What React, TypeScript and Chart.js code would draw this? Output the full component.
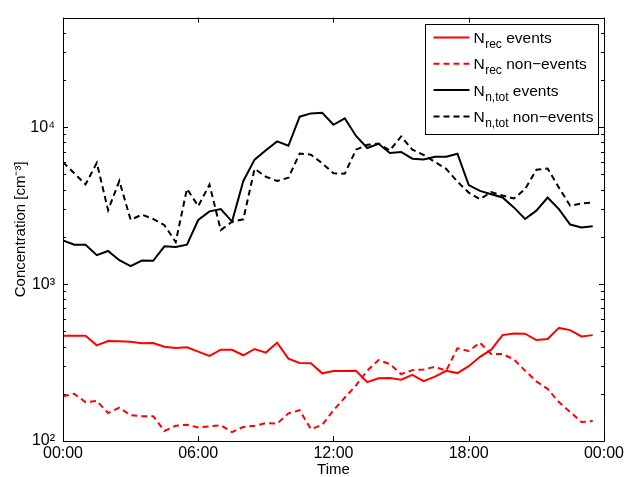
import React, { useEffect, useRef } from "react";
import { Chart, registerables } from "chart.js";

Chart.register(...registerables);

const hours = [
  0, 0.5, 1, 1.5, 2, 2.5, 3, 3.5, 4, 4.5, 5, 5.5, 6, 6.5, 7, 7.5, 8, 8.5, 9, 9.5,
  10, 10.5, 11, 11.5, 12, 12.5, 13, 13.5, 14, 14.5, 15, 15.5, 16, 16.5, 17, 17.5,
  18, 18.5, 19, 19.5, 20, 20.5, 21, 21.5, 22, 22.5, 23, 23.5,
];

const nRecEvents = [
  468, 468, 468, 407, 434, 433, 429, 420, 421, 399, 392, 396, 371, 349, 382, 381,
  352, 386, 366, 423, 335, 314, 313, 270, 279, 279, 280, 237, 251, 252, 246, 264,
  241, 257, 280, 271, 300, 344, 382, 473, 485, 483, 440, 447, 526, 509, 464, 473,
];

const nRecNonEvents = [
  193, 200, 177, 180, 151, 163, 146, 144, 144, 116, 125, 127, 122, 124, 126, 114,
  123, 125, 130, 129, 150, 157, 119, 127, 157, 189, 226, 281, 328, 309, 267, 283,
  286, 297, 281, 390, 375, 423, 358, 358, 332, 281, 240, 215, 177, 153, 132, 134,
];

const nTotEvents = [
  1901, 1783, 1783, 1529, 1627, 1421, 1302, 1413, 1408, 1742, 1725, 1783, 2563, 2909, 3007, 2504,
  4544, 6219, 7128, 8125, 7621, 11680, 12258, 12350, 10370, 11400, 8800, 7370, 7845, 6855, 6955, 6301,
  6237, 6486, 6486, 6786, 4275, 3929, 3740, 3565, 3083, 2602, 2939, 3565, 3008, 2398, 2295, 2339,
];

const nTotNonEvents = [
  5988, 5089, 4325, 5928, 2960, 4544, 2571, 2773, 2602, 2374, 1854, 4052, 3142, 4306, 2208, 2498,
  2589, 5433, 4836, 4544, 4767, 6805, 6687, 5885, 5089, 5052, 7193, 7730, 7870, 7108, 8737, 7193,
  6657, 6013, 5433, 4498, 3833, 3478, 3862, 3670, 3513, 4034, 5355, 5458, 4122, 3160, 3266, 3316,
];

const xTickValues = [0, 6, 12, 18, 24];
const xTickLabels = ["00:00", "06:00", "12:00", "18:00", "00:00"];
const yMajorTicks = [100, 1000, 10000];
const yMajorLabels = ["10\u00B2", "10\u00B3", "10\u2074"];
const yMinorTicks = [
  200, 300, 400, 500, 600, 700, 800, 900,
  2000, 3000, 4000, 5000, 6000, 7000, 8000, 9000,
  20000, 30000, 40000,
];

const legendItems = [
  { main: "N", sub: "rec", rest: " events", color: "#ff0000", dash: [] as number[] },
  { main: "N", sub: "rec", rest: " non\u2212events", color: "#ff0000", dash: [6, 4] },
  { main: "N", sub: "n,tot", rest: " events", color: "#000000", dash: [] as number[] },
  { main: "N", sub: "n,tot", rest: " non\u2212events", color: "#000000", dash: [6, 4] },
];

const FONT = '"Liberation Sans", Arial, Helvetica, sans-serif';

const framePlugin = {
  id: "frameTicks",
  afterDatasetsDraw(chart: any) {
    const { ctx, chartArea } = chart;
    const { left, right, top, bottom } = chartArea;
    const xs = chart.scales.x;
    const ys = chart.scales.y;
    ctx.save();
    ctx.strokeStyle = "#000";
    ctx.lineWidth = 1;
    ctx.setLineDash([]);
    ctx.beginPath();
    ctx.rect(Math.round(left) + 0.5, Math.round(top) + 0.5, Math.round(right - left), Math.round(bottom - top));
    ctx.stroke();
    ctx.beginPath();
    xTickValues.forEach((v) => {
      const px = Math.round(xs.getPixelForValue(v)) + 0.5;
      ctx.moveTo(px, bottom);
      ctx.lineTo(px, bottom - 5);
      ctx.moveTo(px, top);
      ctx.lineTo(px, top + 5);
    });
    yMajorTicks.forEach((v) => {
      const py = Math.round(ys.getPixelForValue(v)) + 0.5;
      ctx.moveTo(left, py);
      ctx.lineTo(left + 5, py);
      ctx.moveTo(right, py);
      ctx.lineTo(right - 5, py);
    });
    yMinorTicks.forEach((v) => {
      const py = Math.round(ys.getPixelForValue(v)) + 0.5;
      ctx.moveTo(left, py);
      ctx.lineTo(left + 3, py);
      ctx.moveTo(right, py);
      ctx.lineTo(right - 3, py);
    });
    ctx.stroke();

    // legend
    const boxW = 173;
    const boxH = 110;
    const bx = Math.round(right - 6 - boxW) + 0.5;
    const by = Math.round(top + 6) + 0.5;
    ctx.fillStyle = "#fff";
    ctx.fillRect(bx, by, boxW, boxH);
    ctx.strokeStyle = "#000";
    ctx.lineWidth = 1;
    ctx.strokeRect(bx, by, boxW, boxH);
    legendItems.forEach((it, i) => {
      const cy = by + 13 + i * 26.3;
      ctx.beginPath();
      ctx.strokeStyle = it.color;
      ctx.lineWidth = 2;
      ctx.setLineDash(it.dash);
      ctx.moveTo(bx + 8, cy);
      ctx.lineTo(bx + 44, cy);
      ctx.stroke();
      ctx.setLineDash([]);
      ctx.fillStyle = "#000";
      ctx.textBaseline = "alphabetic";
      ctx.textAlign = "left";
      let tx = bx + 48;
      const base = cy + 5.5;
      ctx.font = "15.5px " + FONT;
      ctx.fillText(it.main, tx, base);
      tx += ctx.measureText(it.main).width + 0.5;
      ctx.font = "12px " + FONT;
      ctx.fillText(it.sub, tx, base + 5);
      tx += ctx.measureText(it.sub).width;
      ctx.font = "15.5px " + FONT;
      ctx.fillText(it.rest, tx, base);
    });
    ctx.restore();
  },
};

export default function App() {
  const canvasRef = useRef<HTMLCanvasElement | null>(null);

  useEffect(() => {
    const canvas = canvasRef.current;
    if (!canvas) return;
    const toPts = (arr: number[]) => hours.map((h, i) => ({ x: h, y: arr[i] }));
    const common = { pointRadius: 0, borderWidth: 2, fill: false, tension: 0 };
    const chart = new Chart(canvas, {
      type: "line",
      data: {
        datasets: [
          { ...common, label: "N rec events", data: toPts(nRecEvents), borderColor: "#ff0000", backgroundColor: "#ff0000" },
          { ...common, label: "N rec non-events", data: toPts(nRecNonEvents), borderColor: "#ff0000", backgroundColor: "#ff0000", borderDash: [6, 4] },
          { ...common, label: "N n,tot events", data: toPts(nTotEvents), borderColor: "#000000", backgroundColor: "#000000" },
          { ...common, label: "N n,tot non-events", data: toPts(nTotNonEvents), borderColor: "#000000", backgroundColor: "#000000", borderDash: [6, 4] },
        ],
      },
      options: {
        responsive: false,
        animation: false,
        layout: { padding: { top: 13, right: 22, left: 0, bottom: 0 } },
        plugins: { legend: { display: false }, tooltip: { enabled: false } },
        scales: {
          x: {
            type: "linear",
            min: 0,
            max: 24,
            position: "bottom",
            afterBuildTicks: (s: any) => {
              s.ticks = xTickValues.map((v) => ({ value: v }));
            },
            afterFit: (s: any) => {
              s.height = 36;
            },
            grid: { display: false, drawTicks: false },
            border: { display: false },
            ticks: {
              autoSkip: false,
              maxRotation: 0,
              padding: 3,
              color: "#000",
              font: { family: FONT, size: 16 },
              callback: (v: any) => {
                const idx = xTickValues.indexOf(Number(v));
                return idx >= 0 ? xTickLabels[idx] : "";
              },
            },
            title: {
              display: true,
              text: "Time",
              color: "#000",
              font: { family: FONT, size: 15, lineHeight: 1 },
              padding: { top: 0, bottom: 0 },
            },
          },
          y: {
            type: "logarithmic",
            min: 100,
            max: 50000,
            afterBuildTicks: (s: any) => {
              s.ticks = yMajorTicks.map((v) => ({ value: v }));
            },
            afterFit: (s: any) => {
              s.width = 63;
            },
            grid: { display: false, drawTicks: false },
            border: { display: false },
            ticks: {
              autoSkip: false,
              padding: 8,
              color: "#000",
              font: { family: FONT, size: 16 },
              callback: (v: any) => {
                const idx = yMajorTicks.indexOf(Number(v));
                return idx >= 0 ? yMajorLabels[idx] : "";
              },
            },
            title: {
              display: true,
              text: "Concentration [cm\u207B\u00B3]",
              color: "#000",
              font: { family: FONT, size: 15 },
              padding: { top: 12, bottom: 0 },
            },
          },
        },
      },
      plugins: [framePlugin],
    });
    return () => chart.destroy();
  }, []);

  return (
    <div style={{ position: "absolute", left: 0, top: 0, width: 627, height: 477, background: "#fff" }}>
      <canvas ref={canvasRef} width={627} height={477} style={{ width: 627, height: 477, display: "block" }} />
    </div>
  );
}
